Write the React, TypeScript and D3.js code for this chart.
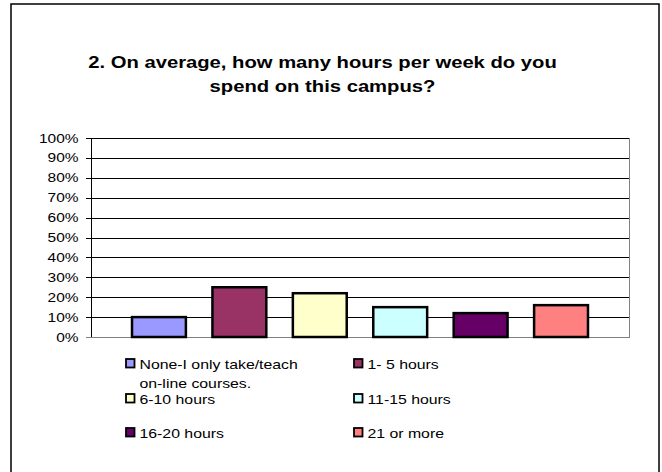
import React from "react";
import * as d3 from "d3";

const categories = [
  "None-I only take/teach on-line courses.",
  "1- 5 hours",
  "6-10 hours",
  "11-15 hours",
  "16-20 hours",
  "21 or more",
];
const values = [0.1, 0.25, 0.22, 0.15, 0.12, 0.16];
const colors = ["#9999ff", "#993366", "#ffffcc", "#ccffff", "#660066", "#ff8080"];
const yTicks = [0, 0.1, 0.2, 0.3, 0.4, 0.5, 0.6, 0.7, 0.8, 0.9, 1.0];
const titleLines = [
  "2. On average, how many hours per week do you",
  "spend on this campus?",
];
const legendLines = [
  ["None-I only take/teach", "on-line courses."],
  ["1- 5 hours"],
  ["6-10 hours"],
  ["11-15 hours"],
  ["16-20 hours"],
  ["21 or more"],
];

const SX = 1.19;

function T(props: { x: number; y: number; size: number; anchor?: string; bold?: boolean; children: React.ReactNode }) {
  return (
    <text
      transform={`translate(${props.x},${props.y}) scale(${SX},1)`}
      textAnchor={props.anchor || "start"}
      fontSize={props.size}
      fontWeight={props.bold ? "bold" : "normal"}
      fill="#000"
    >
      {props.children}
    </text>
  );
}

export default function App() {
  const W = 662;
  const H = 472;
  const left = 91, right = 629, top = 138, bottom = 337;
  const x = d3.scaleBand<string>().domain(categories).range([left, right])
    .paddingInner(0.33).paddingOuter(0.51);
  const y = d3.scaleLinear().domain([0, 1]).range([bottom, top]);
  const font = "'Liberation Sans', Arial, sans-serif";
  const fmt = d3.format(".0%");
  const legendX = [125, 353];
  const legendY = [364, 399, 433];
  return (
    <svg width={W} height={H} style={{ position: "absolute", left: 0, top: 0 }} fontFamily={font}>
      <rect x={0} y={0} width={W} height={H} fill="#fff" />
      <rect x={11} y={4} width={648} height={500} fill="#fff" stroke="#000" strokeWidth={1.5} />
      {titleLines.map((t, i) => (
        <T key={i} x={322.5} y={68 + i * 24} size={17} anchor="middle" bold>{t}</T>
      ))}
      {yTicks.map((t) => (
        <g key={t}>
          <line x1={left - 5} x2={right} y1={Math.round(y(t)) + 0.5} y2={Math.round(y(t)) + 0.5} stroke={t === 0 ? "#808080" : "#000"} strokeWidth={1} />
          <T x={78.5} y={y(t) + 4.5} size={13} anchor="end">{fmt(t)}</T>
        </g>
      ))}
      <line x1={left + 0.5} x2={left + 0.5} y1={top} y2={bottom} stroke="#000" />
      <line x1={right + 0.5} x2={right + 0.5} y1={top} y2={bottom + 1} stroke="#808080" />
      {categories.map((c, i) => (
        <rect key={c} x={x(c)!} y={y(values[i])} width={x.bandwidth()} height={bottom - y(values[i])}
          fill={colors[i]} stroke="#000" strokeWidth={2.5} />
      ))}
      {categories.map((c, i) => {
        const lx = legendX[i % 2];
        const ly = legendY[Math.floor(i / 2)];
        return (
          <g key={c}>
            <rect x={lx + 1} y={ly - 5} width={8.5} height={8.5} fill={colors[i]} stroke="#000" strokeWidth={1.8} />
            {legendLines[i].map((l, j) => (
              <T key={j} x={lx + 14.5} y={ly + 5 + j * 18.5} size={13.3}>{l}</T>
            ))}
          </g>
        );
      })}
    </svg>
  );
}
